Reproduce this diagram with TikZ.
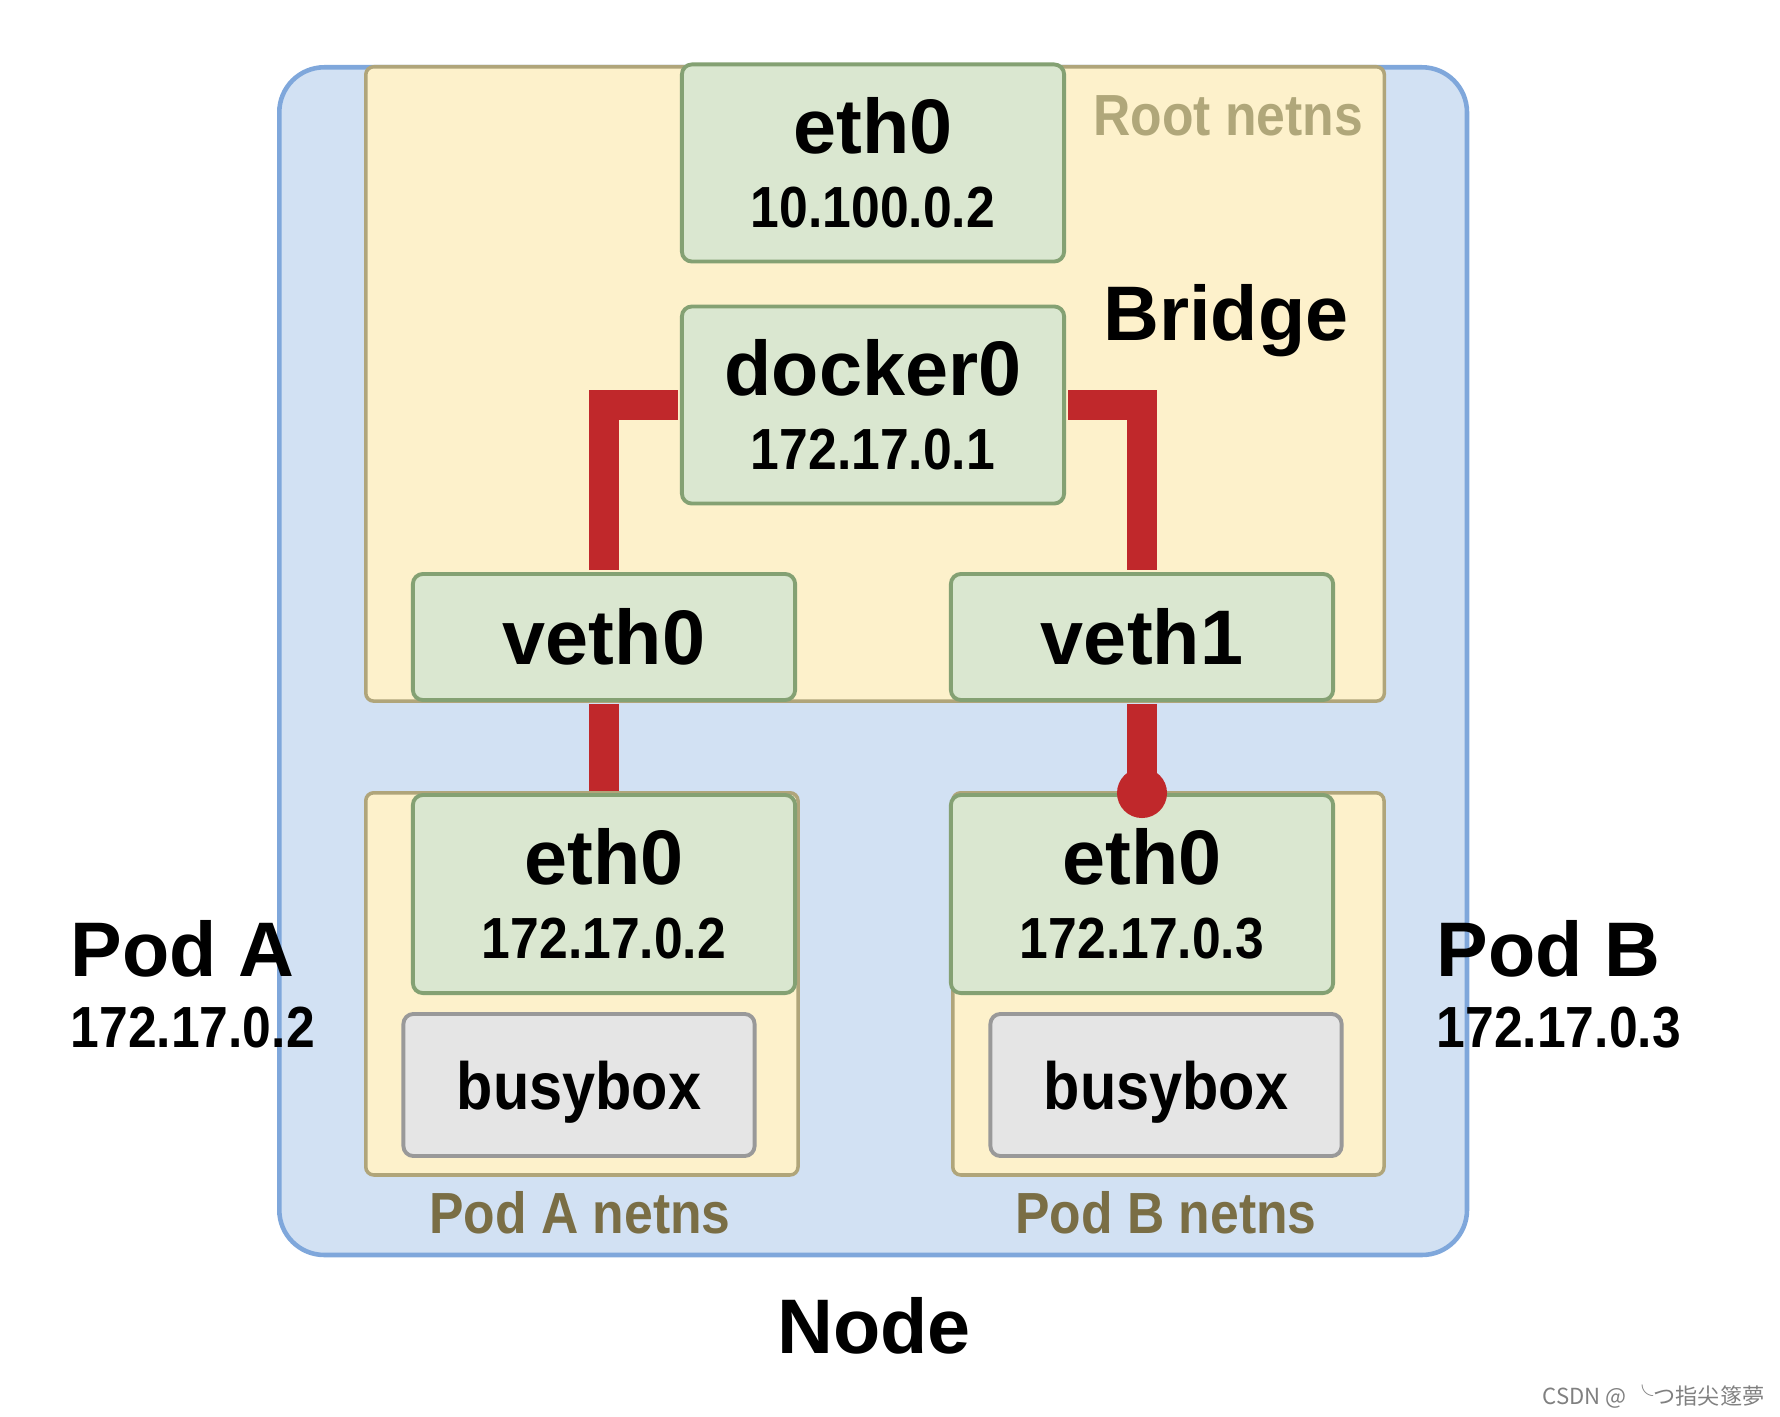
\documentclass[tikz,border=0pt]{standalone}
\usepackage{fontspec}
\setmainfont{Liberation Sans}
\newfontfamily\narrowsans[FakeStretch=0.89]{Liberation Sans}
\newfontfamily\cjkfont{Noto Sans CJK SC}
\usetikzlibrary{positioning}
\definecolor{nodeblue}{RGB}{210,225,243}
\definecolor{nodeblueline}{RGB}{127,167,219}
\definecolor{nsyellow}{RGB}{253,241,203}
\definecolor{nsline}{RGB}{176,165,122}
\definecolor{ifgreen}{RGB}{218,231,208}
\definecolor{ifline}{RGB}{132,161,115}
\definecolor{boxgrey}{RGB}{229,229,229}
\definecolor{boxgreyline}{RGB}{153,153,153}
\definecolor{linkred}{RGB}{192,40,43}
\definecolor{roottext}{RGB}{176,167,122}
\definecolor{podnstext}{RGB}{122,110,69}
\newcommand{\ipfont}{\narrowsans\fontsize{16.5}{20}\selectfont}

\begin{document}
\begin{tikzpicture}[x=0.01cm,y=-0.01cm,
    big/.style={font=\fontsize{22}{20}\selectfont\bfseries},
    small/.style={font=\ipfont\bfseries},
    ifbox/.style={draw=ifline,fill=ifgreen,line width=1.1pt,rounded corners=0.1cm,
      minimum width=3.82cm,align=center,inner sep=0pt,big},
    nsbox/.style={draw=nsline,fill=nsyellow,line width=1pt,rounded corners=0.08cm,anchor=north west},
    appbox/.style={draw=boxgreyline,fill=boxgrey,line width=1.1pt,rounded corners=0.1cm,
      minimum width=3.51cm,minimum height=1.42cm,text height=0.63cm,
      font=\narrowsans\fontsize{19}{20}\selectfont\bfseries},
    link/.style={draw=linkred,line width=8.5pt,shorten <=0.55pt,shorten >=0.55pt}]
    \useasboundingbox (0,0) rectangle (1780,1416);
    % Node and the three namespaces
    \node[draw=nodeblueline,fill=nodeblue,line width=1.3pt,rounded corners=0.45cm,anchor=north west,
      minimum width=11.87cm,minimum height=11.87cm] (hostnode) at (277,65) {};
    \node[nsbox,minimum width=10.18cm,minimum height=6.34cm] (rootns) at (364,65) {};
    \node[nsbox,minimum width=4.32cm,minimum height=3.82cm] (podans) at (364,791) {};
    \node[nsbox,minimum width=4.31cm,minimum height=3.82cm] (podbns) at (951,791) {};
    % Interfaces
    \node[ifbox,minimum height=1.97cm] (hosteth) at (873,163) {eth0\\[1pt]{\ipfont 10.100.0.2}};
    \node[ifbox,minimum height=1.97cm,below=0.41cm of hosteth] (docker) {docker0\\[1pt]{\ipfont 172.17.0.1}};
    \node[ifbox,minimum height=1.26cm] (veth0) at (604,637) {veth0};
    \node[ifbox,minimum height=1.26cm] (veth1) at (1142,637) {veth1};
    \node[ifbox,minimum height=1.98cm,below=0.91cm of veth0] (podaeth) {eth0\\[1pt]{\ipfont 172.17.0.2}};
    \node[ifbox,minimum height=1.98cm,below=0.91cm of veth1] (podbeth) {eth0\\[1pt]{\ipfont 172.17.0.3}};
    \node[appbox] (busyboxa) at (579,1085) {busybox};
    \node[appbox] (busyboxb) at (1166,1085) {busybox};
    % veth pairs and bridge ports
    \draw[link] (veth0.north) |- (docker.west);
    \draw[link] (docker.east) -| (veth1.north);
    \draw[link] (veth0.south) -- (podaeth.north);
    \draw[link] (veth1.south) -- (podbeth.north);
    \fill[linkred] (podbeth.north) circle (0.25cm);
    % Labels
    \node[small,text=roottext,anchor=base] (rootlabel) at (1228,136) {Root netns};
    \node[big,anchor=base] (bridgelabel) at (1226,341) {Bridge};
    \node[small,text=podnstext,anchor=base] (podanslabel) at (580,1233) {Pod A netns};
    \node[small,text=podnstext,anchor=base] (podbnslabel) at (1166,1233) {Pod B netns};
    \node[big,anchor=base west,inner sep=0pt] (podalabel) at (70,976) {Pod A};
    \node[small,anchor=base west,inner sep=0pt] (podaip) at (70,1047) {172.17.0.2};
    \node[big,anchor=base west,inner sep=0pt] (podblabel) at (1436,976) {Pod B};
    \node[small,anchor=base west,inner sep=0pt] (podbip) at (1436,1047) {172.17.0.3};
    \node[big,anchor=base] (nodelabel) at (874,1353) {Node};
    \node[font=\cjkfont\fontsize{6.3}{7}\selectfont,text=gray,anchor=base east,inner sep=0pt] (mark) at (1765,1404) {CSDN @ ╰つ指尖篴夢};
\end{tikzpicture}
\end{document}
